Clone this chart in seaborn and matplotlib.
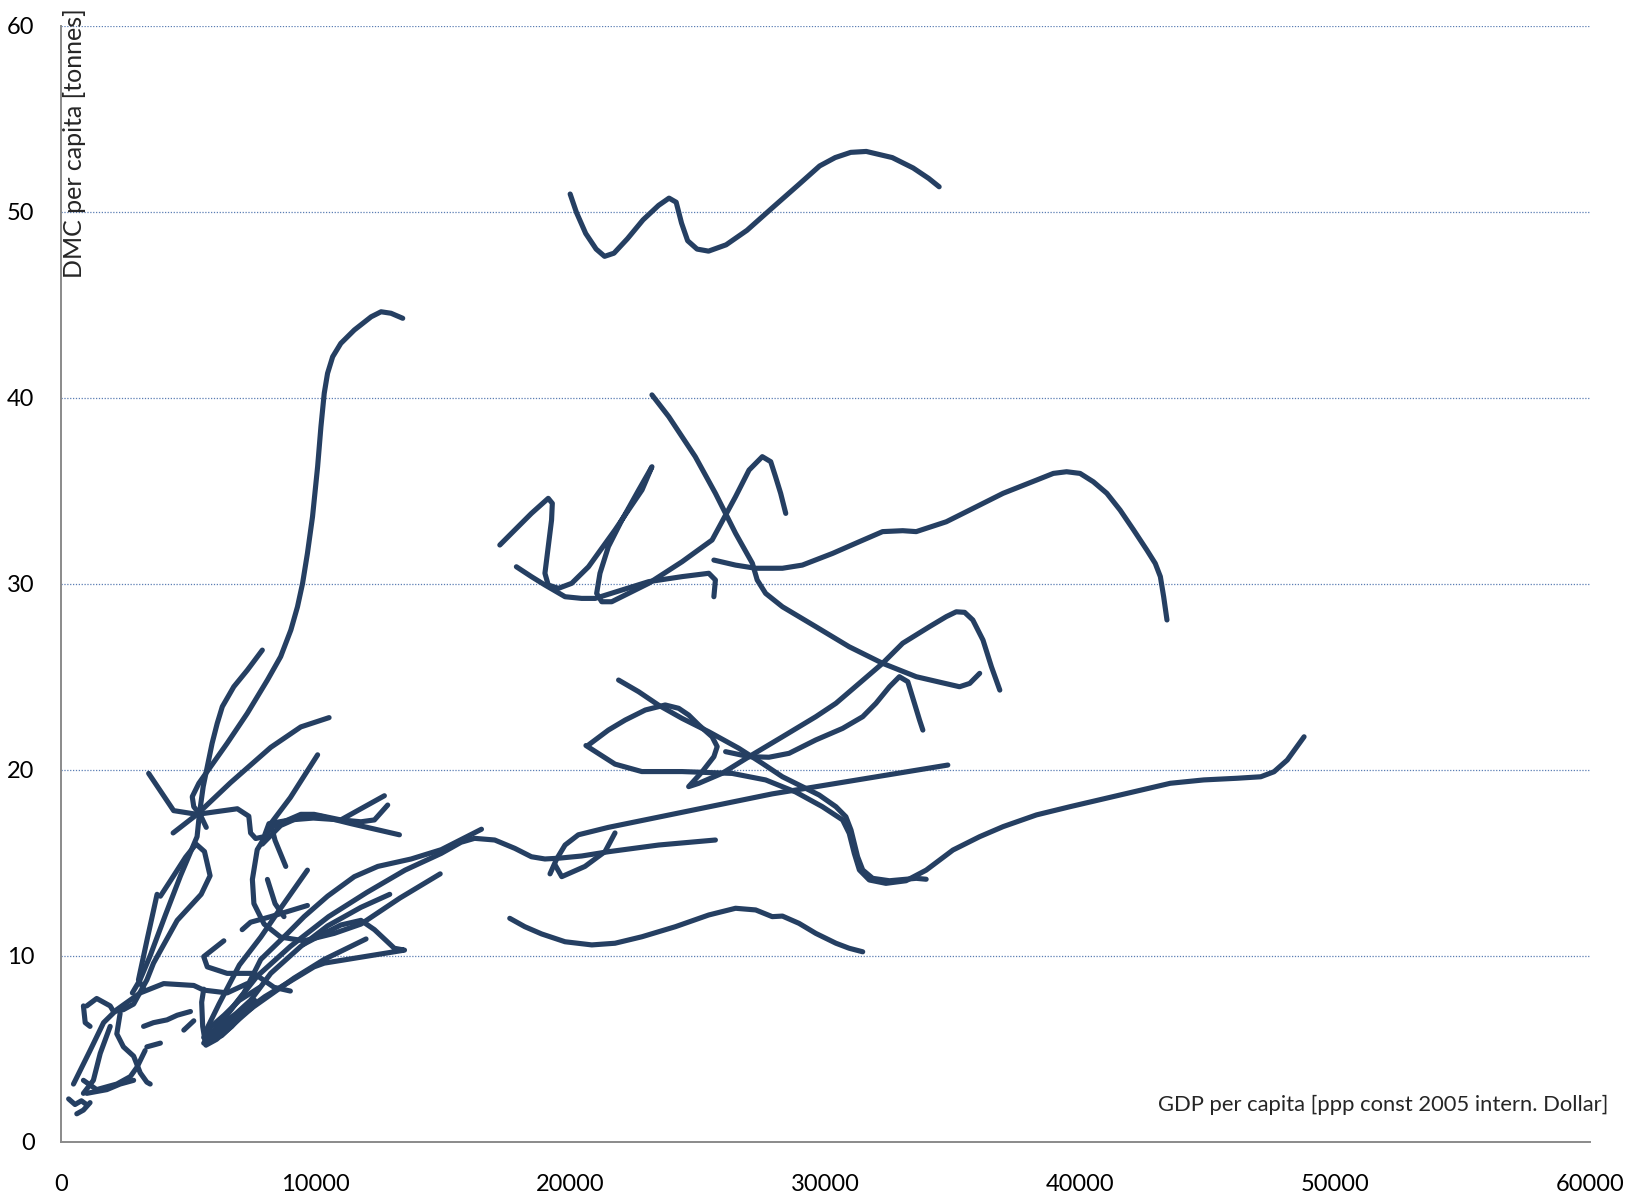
import pandas as pd
import matplotlib
matplotlib.use('Agg')
import matplotlib.pyplot as plt
import seaborn as sns

# trajectories: GDP per capita (x) vs DMC per capita (y), one pair per country
gdp_01 = [19980, 20230, 20590, 21000, 21330, 21700, 22230, 22840, 23450, 23860, 24140, 24350, 24590, 24960, 25410, 26100, 26920, 27930, 28950, 29770, 30380, 30990, 31600, 32620, 33440, 34050, 34460]
dmc_01 = [50.95, 49.95, 48.83, 47.99, 47.6, 47.77, 48.55, 49.56, 50.34, 50.73, 50.51, 49.39, 48.44, 47.99, 47.88, 48.22, 49.0, 50.23, 51.46, 52.46, 52.91, 53.19, 53.24, 52.91, 52.35, 51.79, 51.34]
gdp_02 = [5700, 5470, 5210, 5150, 5410, 5870, 6520, 7310, 8100, 8620, 9020, 9280, 9480, 9670, 9870, 10070, 10200, 10330, 10460, 10660, 10980, 11510, 12170, 12560, 12950, 13410]
dmc_02 = [16.9, 17.56, 18.01, 18.55, 19.27, 20.16, 21.42, 23.03, 24.82, 26.08, 27.51, 28.76, 30.02, 31.63, 33.6, 36.29, 38.44, 40.24, 41.31, 42.2, 42.92, 43.64, 44.35, 44.62, 44.54, 44.27]
gdp_03 = [7900, 7310, 6780, 6330, 6130, 5930, 5740, 5580, 5470, 5420, 5340, 4690, 4100, 3500, 3100, 2800]
dmc_03 = [26.43, 25.35, 24.46, 23.39, 22.49, 21.42, 20.16, 19.09, 18.01, 17.47, 16.4, 14.3, 12.2, 10.0, 8.7, 8.0]
gdp_04 = [3900, 4280, 4890, 5300, 5630, 5850, 5500, 4560, 3630, 3370, 2850, 2450, 2060, 1930, 1400, 1010]
dmc_04 = [13.2, 14.0, 15.3, 16.0, 15.6, 14.3, 13.3, 11.9, 9.6, 8.7, 7.4, 7.1, 7.0, 7.3, 7.7, 7.3]
gdp_05 = [4400, 5340, 6650, 8230, 9410, 10520]
dmc_05 = [16.6, 17.6, 19.3, 21.2, 22.3, 22.8]
gdp_06 = [10070, 9000, 8230, 8400, 8820]
dmc_06 = [20.8, 18.5, 17.1, 16.2, 14.8]
gdp_07 = [3440, 4420, 5340, 6920, 7370, 7440, 7640, 7970, 8160, 9000, 9900, 10980, 11900, 12690]
dmc_07 = [19.8, 17.8, 17.6, 17.9, 17.5, 16.6, 16.3, 16.4, 17.1, 17.3, 17.4, 17.3, 18.0, 18.6]
gdp_08 = [14880, 13300, 11770, 10720, 9540, 8620, 7970, 7570, 7510, 7700, 8230, 9410, 9930, 10980, 11770, 12300, 12820]
dmc_08 = [14.4, 13.1, 11.7, 11.2, 10.8, 11.0, 11.7, 12.8, 14.1, 15.7, 16.9, 17.6, 17.6, 17.3, 17.2, 17.3, 18.1]
gdp_09 = [7900, 8620, 9280, 10200, 11380, 13280]
dmc_09 = [16.0, 17.0, 17.4, 17.5, 17.1, 16.5]
gdp_10 = [5700, 6200, 7000, 7840, 8490, 9670]
dmc_10 = [6.0, 7.4, 9.5, 11.0, 12.3, 14.6]
gdp_11 = [8100, 8400, 8750]
dmc_11 = [14.1, 12.8, 12.1]
gdp_12 = [5800, 6400, 7180, 7840, 8890, 9540, 10460, 11510, 12430, 13740, 14920, 16500]
dmc_12 = [5.6, 6.6, 8.0, 9.8, 11.2, 12.1, 13.2, 14.25, 14.8, 15.2, 15.7, 16.8]
gdp_13 = [5600, 6600, 7700, 9000, 10500, 12000, 13500, 14920, 15700, 16230, 17020, 17810, 18460, 18990, 19520, 20430, 21480, 23450, 25680]
dmc_13 = [5.3, 7.0, 8.9, 10.5, 12.1, 13.4, 14.6, 15.5, 16.1, 16.31, 16.22, 15.77, 15.32, 15.2, 15.24, 15.36, 15.59, 15.95, 16.22]
gdp_14 = [5700, 6400, 7440, 8230, 9410, 10460, 11770, 12900]
dmc_14 = [5.4, 6.3, 7.6, 9.05, 10.5, 11.6, 12.6, 13.3]
gdp_15 = [5900, 7500, 9150, 10330, 11970]
dmc_15 = [5.6, 7.2, 8.8, 9.8, 10.9]
gdp_16 = [6000, 8000, 9930, 10330, 13480, 13080, 12300, 11770, 10980, 10330, 9500]
dmc_16 = [5.8, 7.8, 9.4, 9.6, 10.3, 10.4, 11.4, 11.9, 11.65, 11.2, 10.6]
gdp_17 = [6390, 5600, 5740, 6520, 7570, 8360, 9000]
dmc_17 = [10.8, 9.95, 9.4, 9.05, 9.05, 8.3, 8.1]
gdp_18 = [7110, 7440, 8230, 9670]
dmc_18 = [11.4, 11.8, 12.1, 12.7]
gdp_19 = [3770, 3400, 3040, 3250]
dmc_19 = [13.3, 11.0, 8.7, 8.2]
gdp_20 = [490, 1140, 1670, 2190, 3110, 4030, 5210, 5600, 6520, 7310]
dmc_20 = [3.1, 4.9, 6.4, 7.1, 8.0, 8.5, 8.4, 8.15, 8.0, 8.5]
gdp_21 = [1930, 1540, 1270, 880]
dmc_21 = [6.2, 4.75, 3.3, 2.6]
gdp_22 = [2320, 2190, 2450, 2850, 3110, 3370, 3500]
dmc_22 = [6.9, 5.8, 5.1, 4.6, 3.7, 3.2, 3.1]
gdp_23 = [880, 1400, 2190, 2720, 2980, 3300]
dmc_23 = [3.3, 2.8, 3.1, 3.5, 4.0, 4.9]
gdp_24 = [300, 550, 800, 1000]
dmc_24 = [2.3, 2.0, 2.2, 2.0]
gdp_25 = [620, 880, 1140]
dmc_25 = [1.5, 1.7, 2.1]
gdp_26 = [880, 950, 1140]
dmc_26 = [7.3, 6.4, 6.2]
gdp_27 = [3240, 3630, 4160, 4560, 5080]
dmc_27 = [6.2, 6.4, 6.55, 6.8, 7.0]
gdp_28 = [3370, 3900]
dmc_28 = [5.1, 5.3]
gdp_29 = [4820, 5210]
dmc_29 = [6.0, 6.5]
gdp_30 = [1010, 1800, 2320, 2850]
dmc_30 = [2.6, 2.8, 3.1, 3.3]
gdp_31 = [5700, 6100, 6700, 7200, 7600]
dmc_31 = [5.2, 5.5, 6.2, 7.0, 7.6]
gdp_32 = [5600, 5900, 6400, 7000, 7800]
dmc_32 = [5.6, 6.2, 6.8, 7.6, 8.3]
gdp_33 = [5650, 6300, 7000, 7500, 7000, 6300, 5800]
dmc_33 = [5.4, 5.7, 6.6, 7.2, 7.0, 6.3, 5.5]
gdp_34 = [5680, 5560, 5520, 5600]
dmc_34 = [5.2, 6.2, 7.5, 8.2]
gdp_35 = [21880, 22670, 23450, 24370, 25420, 26600, 27520, 28310, 29090, 29750, 30410, 30800, 31000, 31130, 31260, 31460, 31850, 32510, 33560, 33950]
dmc_35 = [24.82, 24.19, 23.47, 22.76, 22.04, 21.15, 20.34, 19.62, 19.09, 18.64, 18.01, 17.47, 16.76, 16.04, 15.32, 14.61, 14.16, 14.03, 14.16, 14.11]
gdp_36 = [20700, 21480, 22140, 22930, 23710, 24240, 24630, 25030, 25550, 25750, 25620, 25160, 24630, 25030, 25950, 27000, 28310, 29620, 30410, 31330, 32240, 33030, 34080, 34740, 35130, 35460, 35780, 36180, 36510, 36840]
dmc_36 = [21.33, 22.13, 22.67, 23.21, 23.48, 23.3, 22.94, 22.4, 21.77, 21.24, 20.7, 19.89, 19.09, 19.27, 19.81, 20.7, 21.77, 22.85, 23.57, 24.65, 25.72, 26.8, 27.69, 28.23, 28.49, 28.46, 28.05, 26.97, 25.54, 24.28]
gdp_37 = [20600, 21740, 22790, 24370, 26340, 27650, 28830, 29880, 30670, 30930, 31130, 31330, 31720, 32370, 33160, 33950, 35000, 36050, 36970, 38280, 39590, 41560, 43530, 44840, 46150, 47080, 47600, 48120, 48780]
dmc_37 = [21.3, 20.3, 19.9, 19.9, 19.8, 19.45, 18.8, 18.01, 17.3, 16.58, 15.5, 14.61, 14.07, 13.89, 14.03, 14.6, 15.68, 16.4, 16.94, 17.57, 18.01, 18.64, 19.27, 19.45, 19.54, 19.62, 19.89, 20.52, 21.77]
gdp_38 = [19190, 19450, 19780, 20300, 21480, 27910, 34800]
dmc_38 = [14.4, 15.2, 15.95, 16.5, 16.9, 18.7, 20.25]
gdp_39 = [19380, 19650, 20560, 21350, 21740]
dmc_39 = [14.9, 14.25, 14.8, 15.6, 16.6]
gdp_40 = [17220, 17810, 18460, 19120, 19280, 19250, 19120, 18990, 19120, 19520, 20040, 20700, 21740, 22800, 23190, 22670, 22010, 21480, 21150, 21020, 21220, 21610, 23060, 24370, 25550, 26470, 27000, 27520, 27850, 28040, 28240, 28440]
dmc_40 = [32.08, 32.89, 33.78, 34.59, 34.32, 33.42, 31.99, 30.56, 29.93, 29.75, 30.02, 30.91, 32.89, 35.04, 36.29, 35.04, 33.42, 31.99, 30.56, 29.48, 29.03, 29.03, 30.02, 31.18, 32.35, 34.68, 36.11, 36.83, 36.56, 35.75, 34.86, 33.78]
gdp_41 = [17870, 18460, 18990, 19780, 20430, 20960, 22010, 23060, 24370, 25420, 25680, 25620]
dmc_41 = [30.91, 30.38, 29.93, 29.3, 29.21, 29.21, 29.66, 30.11, 30.38, 30.56, 30.2, 29.3]
gdp_42 = [25620, 26470, 27260, 28310, 29090, 30280, 31330, 32240, 33030, 33560, 34740, 35660, 36970, 38280, 38940, 39460, 39990, 40510, 41040, 41560, 42090, 42610, 42940, 43140, 43270, 43400]
dmc_42 = [31.27, 31.0, 30.83, 30.83, 31.0, 31.63, 32.26, 32.8, 32.85, 32.8, 33.33, 33.96, 34.86, 35.57, 35.93, 36.02, 35.93, 35.48, 34.86, 33.96, 32.89, 31.81, 31.09, 30.38, 29.3, 28.05]
gdp_43 = [23190, 23850, 24890, 25680, 26470, 27130, 27320, 27650, 28310, 29620, 30930, 32240, 33560, 34500, 35260, 35660, 36050]
dmc_43 = [40.15, 38.98, 36.83, 34.86, 32.71, 31.1, 30.2, 29.48, 28.76, 27.69, 26.61, 25.72, 25.0, 24.7, 24.46, 24.64, 25.18]
gdp_44 = [26080, 27000, 27780, 28570, 29620, 30670, 31460, 31980, 32510, 32900, 33230, 33490, 33690, 33820]
dmc_44 = [20.97, 20.7, 20.67, 20.88, 21.6, 22.22, 22.85, 23.57, 24.46, 25.0, 24.73, 23.57, 22.67, 22.13]
gdp_45 = [17610, 18200, 18860, 19780, 20830, 21740, 22800, 24110, 25420, 26470, 27260, 27910, 28310, 28960, 29620, 30410, 30930, 31460]
dmc_45 = [12.01, 11.56, 11.17, 10.75, 10.58, 10.67, 11.02, 11.56, 12.19, 12.55, 12.46, 12.1, 12.13, 11.74, 11.2, 10.67, 10.4, 10.21]

trajectories = [
    (gdp_01, dmc_01), (gdp_02, dmc_02), (gdp_03, dmc_03), (gdp_04, dmc_04), (gdp_05, dmc_05),
    (gdp_06, dmc_06), (gdp_07, dmc_07), (gdp_08, dmc_08), (gdp_09, dmc_09), (gdp_10, dmc_10),
    (gdp_11, dmc_11), (gdp_12, dmc_12), (gdp_13, dmc_13), (gdp_14, dmc_14), (gdp_15, dmc_15),
    (gdp_16, dmc_16), (gdp_17, dmc_17), (gdp_18, dmc_18), (gdp_19, dmc_19), (gdp_20, dmc_20),
    (gdp_21, dmc_21), (gdp_22, dmc_22), (gdp_23, dmc_23), (gdp_24, dmc_24), (gdp_25, dmc_25),
    (gdp_26, dmc_26), (gdp_27, dmc_27), (gdp_28, dmc_28), (gdp_29, dmc_29), (gdp_30, dmc_30),
    (gdp_31, dmc_31), (gdp_32, dmc_32), (gdp_33, dmc_33), (gdp_34, dmc_34), (gdp_35, dmc_35),
    (gdp_36, dmc_36), (gdp_37, dmc_37), (gdp_38, dmc_38), (gdp_39, dmc_39), (gdp_40, dmc_40),
    (gdp_41, dmc_41), (gdp_42, dmc_42), (gdp_43, dmc_43), (gdp_44, dmc_44), (gdp_45, dmc_45),
]

rows = []
for i, (gx, dy) in enumerate(trajectories):
    for xv, yv in zip(gx, dy):
        rows.append({'traj': i, 'gdp': xv, 'dmc': yv})
data = pd.DataFrame(rows)

sns.set_theme(style='white')
plt.rcParams['font.family'] = ['Lato', 'DejaVu Sans']

line_col = '#253f62'
axis_col = '#8a8a8a'

fig = plt.figure(figsize=(16.29, 11.96), dpi=100)
ax = fig.add_axes([61 / 1629, 1 - 1141.7 / 1196, (1590 - 61) / 1629, (1141.7 - 25.7) / 1196])

for y in range(10, 61, 10):
    ax.axhline(y, color='#5a7db3', lw=0.9, ls=(0, (1, 1.3)), zorder=0)

sns.lineplot(data=data, x='gdp', y='dmc', units='traj', estimator=None, sort=False,
             color=line_col, linewidth=3.7, legend=False, ax=ax,
             solid_capstyle='round', solid_joinstyle='round')

ax.set_xlim(0, 60000)
ax.set_ylim(0, 60)
ax.set_xticks(range(0, 60001, 10000))
ax.set_yticks(range(0, 61, 10))
ax.set_xlabel('')
ax.set_ylabel('')
sns.despine(ax=ax)
for s in ['left', 'bottom']:
    ax.spines[s].set_color(axis_col)
    ax.spines[s].set_linewidth(1.4)
ax.tick_params(axis='both', direction='out', length=7, width=1.4, color=axis_col,
               labelsize=17, labelcolor='black')
ax.tick_params(axis='x', pad=16)
ax.tick_params(axis='y', pad=12)

fig.text(74.5 / 1629, 1 - 8 / 1196, 'DMC per capita [tonnes]', rotation=90,
         ha='center', va='top', fontsize=18)
fig.text(1608 / 1629, 1 - 1111 / 1196, 'GDP per capita [ppp const 2005 intern. Dollar]',
         ha='right', va='baseline', fontsize=15.8)

fig.savefig('out.png', dpi=100)
